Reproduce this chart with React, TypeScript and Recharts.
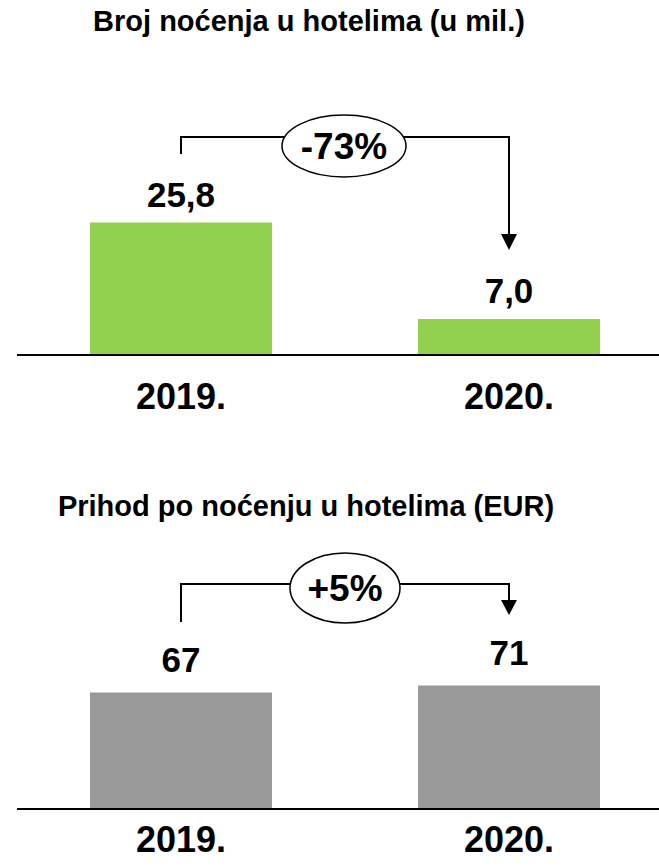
import React from "react";
import { Bar, BarChart, Customized, LabelList, XAxis, YAxis } from "recharts";

const years = ["2019.", "2020."];
const nights = [25.8, 7.0];
const revenue = [67, 71];
const nightsLabels = ["25,8", "7,0"];
const revenueLabels = ["67", "71"];
const nightsChange = "-73%";
const revenueChange = "+5%";

const GREEN = "#92D050";
const GREY = "#999999";
const FONT = '"Liberation Sans", Arial, sans-serif';

const CHART_W = 690;
const SIDE = 17;
const BAND = (CHART_W - SIDE * 2) / years.length;
const cx = (i: number) => SIDE + BAND * (i + 0.5);

const nightsData = years.map((y, i) => ({ year: y, value: nights[i], label: nightsLabels[i] }));
const revenueData = years.map((y, i) => ({ year: y, value: revenue[i], label: revenueLabels[i] }));

function yearTick(dy: number) {
  return (props: any) => {
    const { x, y, payload } = props;
    return (
      <text x={x} y={y + dy} textAnchor="middle" fontFamily={FONT} fontWeight="bold" fontSize={36} fill="#000">
        {payload.value}
      </text>
    );
  };
}

function valueLabel(offset: number) {
  return (props: any) => {
    const { x, y, width, value } = props;
    return (
      <text x={x + width / 2} y={y - offset} textAnchor="middle" fontFamily={FONT} fontWeight="bold" fontSize={35} fill="#000">
        {value}
      </text>
    );
  };
}

// bracket from bar 1 to bar 2 with an ellipse holding the change
function Bracket({ top, leftEnd, tip, head, ex, ey, rx, ry, text, textY }: any) {
  const x1 = cx(0);
  const x2 = cx(1);
  return (
    <g>
      <polyline points={`${x1},${leftEnd} ${x1},${top} ${x2},${top} ${x2},${tip - head}`} fill="none" stroke="#000" strokeWidth={2} />
      <polygon points={`${x2 - 8},${tip - head} ${x2 + 8},${tip - head} ${x2},${tip}`} fill="#000" />
      <ellipse cx={ex} cy={ey} rx={rx} ry={ry} fill="#fff" stroke="#000" strokeWidth={1.5} />
      <text x={ex} y={textY} textAnchor="middle" fontFamily={FONT} fontWeight="bold" fontSize={37} fill="#000">
        {text}
      </text>
    </g>
  );
}

export default function App() {
  return (
    <div style={{ position: "absolute", left: 0, top: 0, width: 659, height: 866, overflow: "hidden", background: "#fff" }}>
      <div style={{ position: "absolute", left: 0, top: 0 }}>
        <BarChart width={CHART_W} height={430} data={nightsData} margin={{ top: 201, right: SIDE, bottom: 35, left: SIDE }}>
          <XAxis
            dataKey="year"
            height={40}
            tickSize={0}
            tickMargin={0}
            tick={yearTick(54)}
            axisLine={{ stroke: "#000", strokeWidth: 2 }}
            tickLine={false}
          />
          <YAxis hide domain={[0, 30]} />
          <Bar dataKey="value" fill={GREEN} barSize={182} isAnimationActive={false}>
            <LabelList dataKey="label" content={valueLabel(16)} />
          </Bar>
          <Customized
            component={() => (
              <g>
                <text x={309} y={31} textAnchor="middle" fontFamily={FONT} fontWeight="bold" fontSize={29} fill="#000">
                  Broj noćenja u hotelima (u mil.)
                </text>
                <Bracket top={137} leftEnd={154} tip={250} head={16} ex={344} ey={146} rx={62} ry={31} text={nightsChange} textY={159} />
              </g>
            )}
          />
        </BarChart>
      </div>
      <div style={{ position: "absolute", left: 0, top: 430 }}>
        <BarChart width={CHART_W} height={436} data={revenueData} margin={{ top: 205, right: SIDE, bottom: 17, left: SIDE }}>
          <XAxis
            dataKey="year"
            height={40}
            tickSize={0}
            tickMargin={0}
            tick={yearTick(43)}
            axisLine={{ stroke: "#000", strokeWidth: 2 }}
            tickLine={false}
          />
          <YAxis hide domain={[0, 100]} />
          <Bar dataKey="value" fill={GREY} barSize={182} isAnimationActive={false}>
            <LabelList dataKey="label" content={valueLabel(20)} />
          </Bar>
          <Customized
            component={() => (
              <g>
                <text x={306} y={86} textAnchor="middle" fontFamily={FONT} fontWeight="bold" fontSize={29} fill="#000">
                  Prihod po noćenju u hotelima (EUR)
                </text>
                <Bracket top={154} leftEnd={192} tip={185} head={15} ex={345} ey={158} rx={55} ry={35} text={revenueChange} textY={171} />
              </g>
            )}
          />
        </BarChart>
      </div>
    </div>
  );
}
